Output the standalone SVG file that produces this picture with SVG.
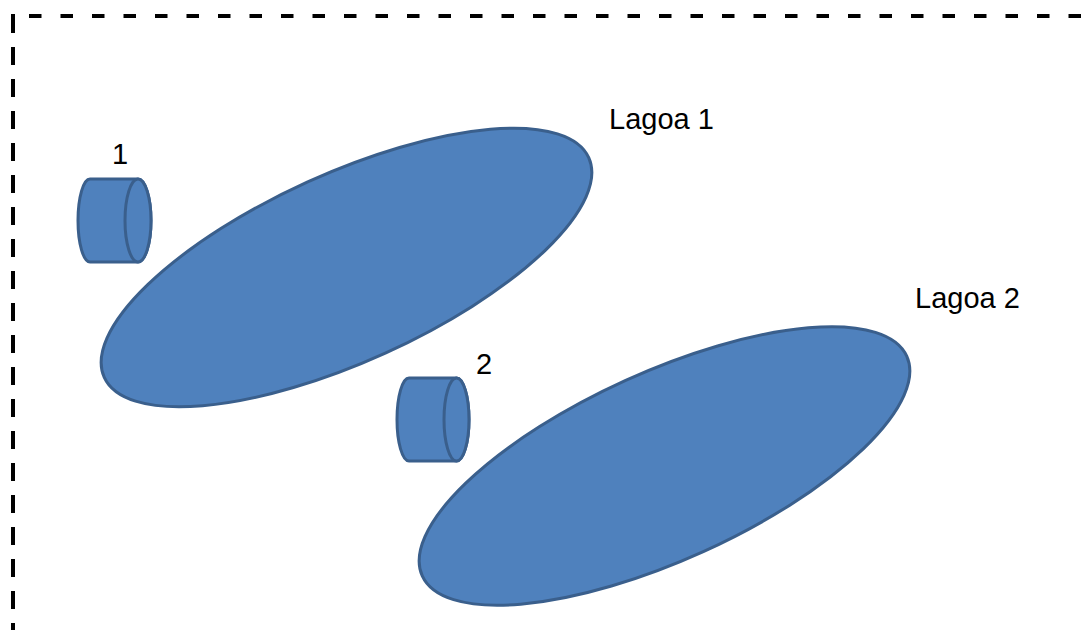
<svg xmlns="http://www.w3.org/2000/svg" width="1082" height="630" viewBox="0 0 1082 630">
<style>
.shape{fill:#4f81bd;stroke:#3a5f8c;stroke-width:3}
.lbl{font-family:"Liberation Sans",Arial,sans-serif;font-size:29px;fill:#000}
.bh{fill:none;stroke:#000;stroke-width:4;stroke-dasharray:12.5 19}
.bv{fill:none;stroke:#000;stroke-width:4;stroke-dasharray:18 14}
</style>
<rect width="1082" height="630" fill="#fff"/>
<g id="border">
<line class="bh" x1="29" y1="16" x2="1082" y2="16"/>
<line class="bv" x1="13" y1="15" x2="13" y2="630"/>
<path d="M13 32 V16 H15" fill="none" stroke="#000" stroke-width="4"/>
</g>
<g id="lagoa1">
<ellipse class="shape" cx="346.5" cy="267.5" rx="266" ry="94" transform="rotate(-24.4 346.5 267.5)"/>
<text class="lbl" x="609" y="129">Lagoa 1</text>
</g>
<g id="lagoa2">
<ellipse class="shape" cx="664.5" cy="466" rx="266" ry="94" transform="rotate(-24.4 664.5 466)"/>
<text class="lbl" x="915" y="308">Lagoa 2</text>
</g>
<g id="cyl1">
<path class="shape" d="M90 179 H138 A13 41.5 0 0 1 138 262 H90 A12 41.5 0 0 1 90 179 Z"/>
<ellipse class="shape" cx="138" cy="220.5" rx="13" ry="41.5"/>
<text class="lbl" x="112" y="164">1</text>
</g>
<g id="cyl2">
<path class="shape" d="M409 378 H456.5 A12.5 41.5 0 0 1 456.5 461 H409 A12 41.5 0 0 1 409 378 Z"/>
<ellipse class="shape" cx="456.5" cy="419.5" rx="12.5" ry="41.5"/>
<text class="lbl" x="476" y="374">2</text>
</g>
<g id="connectors"/>
</svg>
